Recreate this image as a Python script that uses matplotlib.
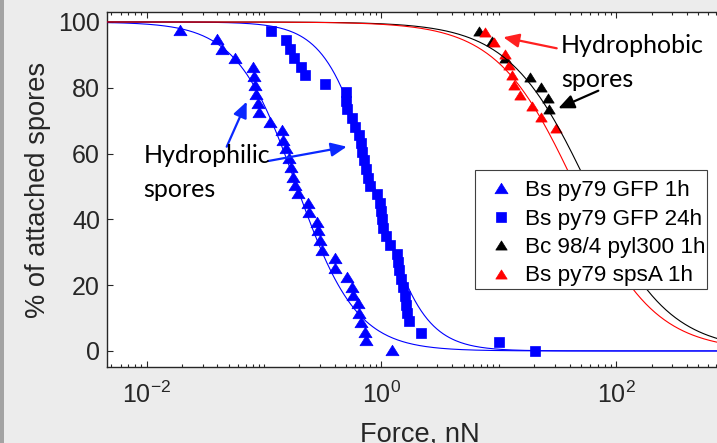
import numpy as np
import matplotlib.pyplot as plt
from matplotlib.patches import FancyArrowPatch, Rectangle, ArrowStyle
from matplotlib.path import Path
from matplotlib.ticker import FixedLocator, FixedFormatter, LogLocator, NullFormatter

plt.rcParams["font.family"] = ["Liberation Sans", "DejaVu Sans"]
plt.rcParams["mathtext.fontset"] = "custom"
plt.rcParams["mathtext.rm"] = "Liberation Sans"
plt.rcParams["mathtext.default"] = "regular"

# Bs py79 GFP 1h (blue triangles)
gfp1h_force = [0.0192, 0.0400, 0.0441, 0.0569, 0.0811, 0.0827, 0.0843, 0.0855, 0.0894,
               0.0912, 0.1125, 0.1415, 0.1462, 0.1541, 0.1644, 0.1690, 0.1778, 0.1838,
               0.1960, 0.2359, 0.2421, 0.2813, 0.2904, 0.3020, 0.3105, 0.4029, 0.4029,
               0.5070, 0.5596, 0.5771, 0.6368, 0.6493, 0.6670, 0.7262, 0.7410, 1.227]
gfp1h_attached = [97.6, 94.8, 91.8, 89.1, 86.4, 83.6, 80.9, 78.1, 75.3, 72.6, 69.7, 67.2,
                  64.1, 61.6, 58.6, 56.0, 53.0, 50.5, 47.9, 44.9, 42.3, 39.3, 36.8, 33.6,
                  30.7, 28.2, 25.1, 22.6, 19.5, 17.0, 14.5, 11.6, 8.9, 5.9, 3.3, 0.3]

# Bs py79 GFP 24h (blue squares)
gfp24h_force = [0.1140, 0.1531, 0.1666, 0.1813, 0.2067, 0.2237, 0.3312, 0.4970, 0.5000,
                0.5050, 0.5662, 0.5969, 0.6454, 0.6650, 0.6887, 0.7118, 0.7357, 0.7629,
                0.8012, 0.9137, 0.9748, 0.9883, 1.008, 1.034, 1.097, 1.186, 1.353, 1.396,
                1.415, 1.458, 1.540, 1.592, 1.624, 1.666, 1.706, 2.168, 9.94, 20.15]
gfp24h_attached = [97.4, 94.5, 91.9, 89.1, 86.4, 83.9, 81.2, 78.6, 76.0, 73.4, 70.8, 68.2,
                   65.7, 63.1, 60.5, 57.9, 55.3, 52.7, 50.2, 47.7, 45.1, 42.6, 40.0, 37.4,
                   34.8, 32.2, 29.6, 27.1, 24.5, 21.9, 19.3, 16.7, 14.1, 11.6, 9.0, 5.4,
                   2.6, 0.0]

# Bc 98/4 pyl300 1h (black triangles)
pyl300_force = [6.71, 8.79, 11.34, 18.27, 22.68, 25.97, 26.53]
pyl300_attached = [97.3, 94.2, 89.1, 83.4, 80.2, 76.9, 73.6]

# Bs py79 spsA 1h (red triangles)
spsa_force = [7.66, 9.01, 11.19, 12.10, 12.93, 13.35, 15.01, 19.15, 22.76, 30.85]
spsa_attached = [97.1, 93.8, 90.3, 86.9, 83.9, 80.9, 77.7, 74.5, 71.2, 67.8]

# fitted sigmoid parameters (half-detachment force, steepness)
fit_x0 = {"gfp1h": 0.19, "gfp24h": 0.87, "pyl300": 57.8, "spsa": 44.9}
fit_n = {"gfp1h": 1.7, "gfp24h": 2.15, "pyl300": 1.28, "spsa": 1.296}

series_names = ["Bs py79 GFP 1h", "Bs py79 GFP 24h", "Bc 98/4 pyl300 1h", "Bs py79 spsA 1h"]

xtick_values = [1e-2, 1e0, 1e2]
xtick_labels = ["$10^{-2}$", "$10^{0}$", "$10^{2}$"]
ytick_values = [0, 20, 40, 60, 80, 100]

W, H = 717, 443


def px(x, y):
    """Pixel position (from top-left) to figure fraction."""
    return x / W, 1 - y / H


def fit_curve(x, key):
    return 100.0 / (1.0 + (x / fit_x0[key]) ** fit_n[key])


# MATLAB-like triangle: wider than tall
tri = Path([(-1, -0.8), (1, -0.8), (0, 0.8), (-1, -0.8)],
           [Path.MOVETO, Path.LINETO, Path.LINETO, Path.CLOSEPOLY])

fig = plt.figure(figsize=(W / 100, H / 100), dpi=100, facecolor="#ececec")
fig.patches.append(Rectangle((0, 0), 4 / W, 1, transform=fig.transFigure,
                             facecolor="#a3a3a3", edgecolor="none"))

ax = fig.add_axes([107 / W, (H - 367.4) / H, 626.7 / W, 355.3 / H])
ax.set_facecolor("white")

h1, = ax.plot(gfp1h_force, gfp1h_attached, linestyle="none", marker=tri, markersize=9.4,
              color="#0000ff", markeredgewidth=0.5, zorder=2)
h2, = ax.plot(gfp24h_force, gfp24h_attached, linestyle="none", marker="s", markersize=7.0,
              color="#0000ff", markeredgewidth=0.5, zorder=2)
h3, = ax.plot(pyl300_force, pyl300_attached, linestyle="none", marker=tri, markersize=8.2,
              color="black", markeredgewidth=0.5, zorder=2)
h4, = ax.plot(spsa_force, spsa_attached, linestyle="none", marker=tri, markersize=8.2,
              color="#ff0000", markeredgewidth=0.5, zorder=2)

# fit lines over the full force range
xs = np.logspace(np.log10(0.0046), 3, 400)
ax.plot(xs, fit_curve(xs, "gfp1h"), color="#0000ff", lw=0.8, zorder=3)
ax.plot(xs, fit_curve(xs, "gfp24h"), color="#0000ff", lw=0.8, zorder=3)
ax.plot(xs, fit_curve(xs, "pyl300"), color="black", lw=0.8, zorder=3)
ax.plot(xs, fit_curve(xs, "spsa"), color="#ff0000", lw=0.8, zorder=3)

ax.set_xscale("log")
ax.set_xlim(0.0046, 1000)
ax.set_ylim(-5, 103)
ax.xaxis.set_major_locator(FixedLocator(xtick_values))
ax.xaxis.set_major_formatter(FixedFormatter(xtick_labels))
ax.xaxis.set_minor_locator(LogLocator(base=10, subs=np.arange(1, 10), numticks=50))
ax.xaxis.set_minor_formatter(NullFormatter())
ax.set_yticks(ytick_values)

for s in ax.spines.values():
    s.set_color("#262626")
    s.set_linewidth(1.0)
ax.tick_params(which="both", direction="in", top=True, right=True, color="#262626",
               labelcolor="#262626", labelsize=18, width=0.8)
ax.tick_params(which="major", length=4.3)
ax.tick_params(which="minor", length=2.2)
ax.tick_params(axis="x", pad=10)
ax.tick_params(axis="y", pad=5)

fig.text(*px(38.5, 189.7), "% of attached spores", rotation=90, ha="center", va="center",
         fontsize=19.6, color="#262626")
fig.text(*px(420.3, 441.5), "Force, nN", ha="center", va="baseline", fontsize=19.6,
         color="#262626")

# legend: frame drawn separately so the padding matches the MATLAB box
fig.patches.append(Rectangle(px(475, 289), 232 / W, 119 / H, transform=fig.transFigure,
                             facecolor="white", edgecolor="#404040", lw=0.8, zorder=4))
leg = fig.legend([h1, h2, h3, h4], series_names, loc="upper left",
                 bbox_to_anchor=px(475, 174.5), borderaxespad=0, fontsize=16.2,
                 frameon=False, borderpad=0.25, handlelength=1.78, handletextpad=0.19,
                 labelspacing=0.33)
leg.set_zorder(5)

# annotation text and arrows
note_font = dict(family=["Lato", "DejaVu Sans"], fontsize=18, color="black")
fig.text(*px(143.3, 163.3), "Hydrophilic", ha="left", va="baseline", **note_font)
fig.text(*px(143.3, 196.6), "spores", ha="left", va="baseline", **note_font)
fig.text(*px(561, 53.3), "Hydrophobic", ha="left", va="baseline", **note_font)
fig.text(*px(561, 87.3), "spores", ha="left", va="baseline", **note_font)

arrows = [
    ((226.7, 146.7), (246.7, 101.7), "#0a28ff"),
    ((268.3, 161.0), (346.7, 146.7), "#0a28ff"),
    ((556.7, 48.3), (503.3, 37.3), "#ff2020"),
    ((598.3, 90.7), (558.3, 108.3), "black"),
]
style = ArrowStyle("-|>", head_length=9.5, head_width=4.2)
for tail, tip, col in arrows:
    fig.patches.append(FancyArrowPatch(px(*tail), px(*tip), transform=fig.transFigure,
                                       arrowstyle=style, mutation_scale=1, lw=1.6,
                                       color=col, shrinkA=0, shrinkB=0))

fig.savefig("out.png", dpi=100, facecolor=fig.get_facecolor())
